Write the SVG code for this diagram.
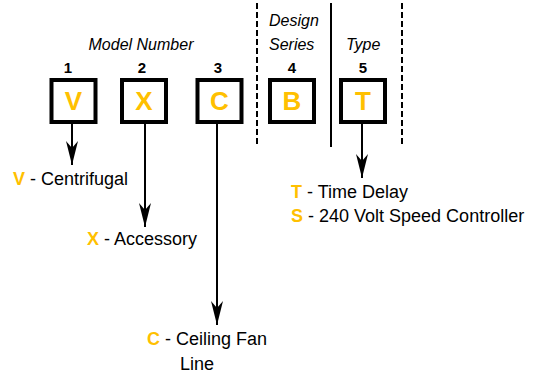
<svg xmlns="http://www.w3.org/2000/svg" width="534" height="377" viewBox="0 0 534 377">
<style>
.box{fill:#fff;stroke:#000;stroke-width:4}
.code{font-family:"Liberation Sans",Arial,sans-serif;font-size:26px;font-weight:bold;fill:#FFC000;text-anchor:middle}
.num{font-family:"Liberation Sans",Arial,sans-serif;font-size:15px;font-weight:bold;fill:#000;text-anchor:middle}
.hdr{font-family:"Liberation Sans",Arial,sans-serif;font-size:16px;font-style:italic;fill:#000}
.lbl{font-family:"Liberation Sans",Arial,sans-serif;font-size:18px;fill:#000}
.hl{fill:#FFC000;font-weight:bold}
.arr{stroke:#000;stroke-width:2;fill:none}
.sep{stroke:#000;stroke-width:2}
.dash{stroke:#000;stroke-width:2;stroke-dasharray:6,3}
</style>
<defs>
<marker id="ah" markerUnits="userSpaceOnUse" markerWidth="26" markerHeight="14" viewBox="-25 -7 26 14" refX="0" refY="0" orient="auto">
<path d="M0,0 L-24,-6 L-17,0 L-24,6 Z" fill="#000"/>
</marker>
</defs>
<g id="separators">
<line class="dash" x1="257" y1="3" x2="257" y2="147"/>
<line class="sep" x1="331" y1="3" x2="331" y2="147"/>
<line class="dash" x1="402" y1="3" x2="402" y2="145"/>
</g>
<g id="headers">
<text class="hdr" x="141" y="50" text-anchor="middle">Model Number</text>
<text class="hdr" x="269" y="26">Design</text>
<text class="hdr" x="269" y="50">Series</text>
<text class="hdr" x="346" y="50">Type</text>
</g>
<g id="connectors">
<line class="arr" x1="72" y1="124" x2="72" y2="165" marker-end="url(#ah)"/>
<line class="arr" x1="145" y1="124" x2="145" y2="227" marker-end="url(#ah)"/>
<line class="arr" x1="217" y1="124" x2="217" y2="325" marker-end="url(#ah)"/>
<line class="arr" x1="362" y1="124" x2="362" y2="178" marker-end="url(#ah)"/>
</g>
<g id="node1">
<text class="num" x="68" y="73">1</text>
<rect class="box" x="51.5" y="80" width="44" height="42"/>
<text class="code" x="73.5" y="110">V</text>
</g>
<g id="node2">
<text class="num" x="142" y="73">2</text>
<rect class="box" x="122" y="80" width="44" height="42"/>
<text class="code" x="144" y="110">X</text>
</g>
<g id="node3">
<text class="num" x="218" y="73">3</text>
<rect class="box" x="197.5" y="80" width="44" height="42"/>
<text class="code" x="219.5" y="110">C</text>
</g>
<g id="node4">
<text class="num" x="292" y="73">4</text>
<rect class="box" x="270" y="80" width="44" height="42"/>
<text class="code" x="292" y="110">B</text>
</g>
<g id="node5">
<text class="num" x="363" y="73">5</text>
<rect class="box" x="341" y="80" width="44" height="42"/>
<text class="code" x="363" y="110">T</text>
</g>
<g id="labels">
<text class="lbl" x="13" y="185"><tspan class="hl">V</tspan> - Centrifugal</text>
<text class="lbl" x="87" y="245"><tspan class="hl">X</tspan> - Accessory</text>
<text class="lbl" x="147" y="345"><tspan class="hl">C</tspan> - Ceiling Fan</text>
<text class="lbl" x="180" y="370">Line</text>
<text class="lbl" x="291" y="198"><tspan class="hl">T</tspan> - Time Delay</text>
<text class="lbl" x="291" y="222"><tspan class="hl">S</tspan> - 240 Volt Speed Controller</text>
</g>
</svg>
